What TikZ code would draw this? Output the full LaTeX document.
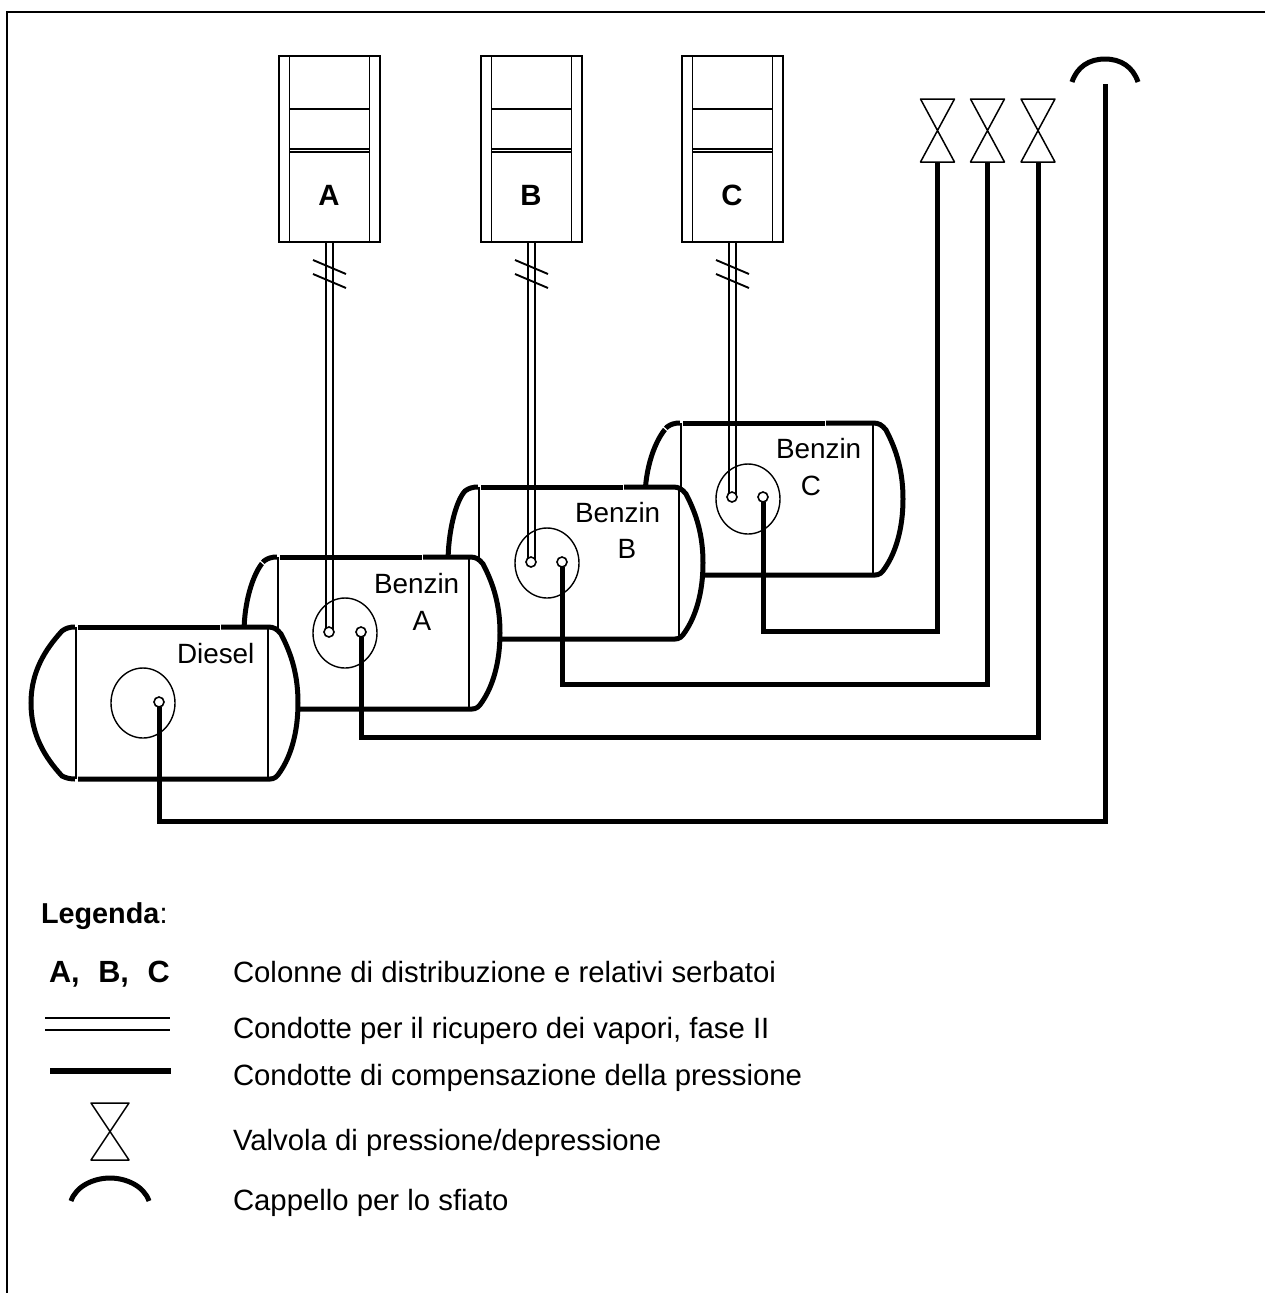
\documentclass[tikz,border=0pt]{standalone}
\usepackage{fontspec}
\setmainfont{Liberation Sans}
\usetikzlibrary{shapes.geometric}
\tikzset{
  x=0.75pt,y=-0.75pt,
  frameline/.style={line width=2.4pt*0.75,line cap=butt},
  thinline/.style={line width=1.9*0.75pt},
  valveline/.style={line width=1.5*0.75pt},
  hairline/.style={line width=1.3*0.75pt},
  heavy/.style={line width=5*0.75pt,line cap=butt,line join=miter},
  vapour/.style={line width=1.4*0.75pt},
  label/.style={font=\fontsize{20.9pt}{24pt}\selectfont,inner sep=0pt,outer sep=0pt},
  legendlabel/.style={font=\fontsize{22pt}{24pt}\selectfont,inner sep=0pt,outer sep=0pt},
  boldlabel/.style={label,font=\fontsize{22pt}{24pt}\selectfont\bfseries},
  headlabel/.style={label,font=\fontsize{21.6pt}{24pt}\selectfont\bfseries},
  bigbold/.style={label,font=\fontsize{23pt}{24pt}\selectfont\bfseries},
  port/.style={circle,draw,fill=white,line width=1.6*0.75pt,inner sep=0pt,minimum size=10*0.75pt,outer sep=0pt},
  sump/.style={ellipse,draw,line width=1.4*0.75pt,inner sep=0pt,minimum width=64*0.75pt,minimum height=70*0.75pt},
  colbox/.style={rectangle,draw,thinline,inner sep=0pt,minimum width=101*0.75pt,minimum height=186*0.75pt},
}
% #1 left shift, #2 right-curve shift, #3 y shift, #4 left extreme (relative), #5 right vertical x
\newcommand{\leftcap}[4]{%
  .. controls ({#1+70},{#3+627}) and ({#1+66},{#3+628}) .. ({#1+62},{#3+631})
    .. controls ({#1+62-(62-#4)*0.55},{#3+631+(62-#4)*0.6}) and ({#1+#4},{#3+672}) .. ({#1+#4},{#3+703})
    .. controls ({#1+#4},{#3+735}) and ({#1+62-(62-#4)*0.55},{#3+776-(62-#4)*0.6}) .. ({#1+62},{#3+776})
    .. controls ({#1+66},{#3+778}) and ({#1+70},{#3+779})}
\newcommand{\tankshape}[5]{%
  \fill[white] ({#1+76},{#3+627}) \leftcap{#1}{#2}{#3}{#4} .. ({#1+76},{#3+779})
    -- ({#2+270},{#3+779})
    .. controls ({#2+274},{#3+779}) and ({#2+277},{#3+777}) .. ({#2+280},{#3+772})
    .. controls ({#2+291},{#3+756}) and ({#2+298},{#3+732}) .. ({#2+298},{#3+703})
    .. controls ({#2+298},{#3+676}) and ({#2+292},{#3+655}) .. ({#2+281},{#3+634})
    .. controls ({#2+277},{#3+629}) and ({#2+274},{#3+627}) .. ({#2+268},{#3+627}) -- cycle;
  \draw[heavy] ({#1+75},{#3+627}) \leftcap{#1}{#2}{#3}{#4} .. ({#1+75},{#3+779});
  \draw[heavy] ({#1+78},{#3+779}) -- ({#2+270},{#3+779})
    .. controls ({#2+274},{#3+779}) and ({#2+277},{#3+777}) .. ({#2+280},{#3+772})
    .. controls ({#2+291},{#3+756}) and ({#2+298},{#3+732}) .. ({#2+298},{#3+703})
    .. controls ({#2+298},{#3+676}) and ({#2+292},{#3+655}) .. ({#2+281},{#3+634})
    .. controls ({#2+277},{#3+629}) and ({#2+274},{#3+627}) .. ({#2+268},{#3+627})
    -- ({#1+221},{#3+627});
  \draw[heavy] ({#1+220},{#3+627}) -- ({#1+78},{#3+627});
  \draw[hairline] ({#1+76},{#3+627}) -- ({#1+76},{#3+779});
  \draw[thinline] (#5,{#3+627}) -- (#5,{#3+779});
  \draw[white,line width=1*0.75pt] ({#1+220.5},{#3+624}) -- ({#1+220.5},{#3+630});
}
\newcommand{\capgap}[2]{\draw[white,line width=1.2*0.75pt] ({#1+56},{#2+629}) -- ({#1+65},{#2+637});}
% name, x centre
\newcommand{\columnunit}[3]{%
  \node[colbox] (#1) at (#2,149) {};
  \draw[thinline] ({#2-40},56) -- ({#2-40},242) ({#2+40},56) -- ({#2+40},242);
  \draw[thinline] ({#2-40},109) -- ({#2+40},109) ({#2-40},149) -- ({#2+40},149) ({#2-40},152) -- ({#2+40},152);
  \node[boldlabel,anchor=base] (#1t) at ({#2-0.5},205) {#3};
  \draw[thinline] ({#2-16.5},260) -- ({#2+16.5},274) ({#2-16.5},274) -- ({#2+16.5},288);
}
% name, x, top, bottom, half width
\newcommand{\valvesym}[5]{%
  \coordinate (#1) at (#2,#4);
  \draw[valveline,line join=round] ({#2-#5},#3) -- ({#2+#5},#3) -- ({#2-#5},#4) -- ({#2+#5},#4) -- cycle;
}
\newcommand{\hoodsym}[3]{% x centre, top y, half width
  \draw[heavy] ({#1-#3},{#2+23}) .. controls ({#1-#3+5},{#2+8}) and ({#1-16},{#2}) .. (#1,#2)
     .. controls ({#1+16},{#2}) and ({#1+#3-5},{#2+8}) .. ({#1+#3},{#2+23});
}
\begin{document}
\begin{tikzpicture}
\useasboundingbox (0,0) rectangle (1265,1293);
\draw[frameline] (1265,12) -- (7,12) -- (7,1293);

% tanks, back to front
\tankshape{605}{605}{-204}{40}{873}
\capgap{605}{-204}
\node[sump] (sC) at (748,499) {};
\tankshape{403}{405}{-140}{45}{679}
\node[sump] (sB) at (547,563) {};
\tankshape{202}{202}{-70}{42}{469}
\capgap{202}{-70}
\node[sump] (sA) at (345,633) {};
\tankshape{0}{0}{0}{31}{268}
\node[sump] (sD) at (143,703) {};

\node[label,anchor=base west] (tD) at (177,663) {Diesel};
\node[label,anchor=base west] (tA1) at (374,593) {Benzin};
\node[label,anchor=base] (tA2) at (422,630) {A};
\node[label,anchor=base west] (tB1) at (575,522) {Benzin};
\node[label,anchor=base] (tB2) at (627,558) {B};
\node[label,anchor=base west] (tC1) at (776,458) {Benzin};
\node[label,anchor=base] (tC2) at (811,495) {C};

% dispensers
\columnunit{cA}{329.5}{A}
\columnunit{cB}{531.5}{B}
\columnunit{cC}{732.5}{C}

% ports
\node[port] (pA2) at (361,632) {};
\node[port] (pB2) at (562,562) {};
\node[port] (pC2) at (763,497) {};
\node[port] (pD) at (159,702) {};

% vapour recovery lines
\coordinate (pA0) at (329,632);
\coordinate (pB0) at (531,562);
\coordinate (pC0) at (732,497);
\foreach \c/\p in {cA/pA0,cB/pB0,cC/pC0}{
  \draw[vapour] ([xshift=-3.6*0.75pt]\c.south) -- ([xshift=-3.6*0.75pt]\c.south |- \p);
  \draw[vapour] ([xshift=3.6*0.75pt]\c.south) -- ([xshift=3.6*0.75pt]\c.south |- \p);
}
\node[port] (pA1) at (pA0) {};
\node[port] (pB1) at (pB0) {};
\node[port] (pC1) at (pC0) {};

% valves and vent
\valvesym{v1}{937.5}{99}{162}{17}
\valvesym{v2}{987.5}{99}{162}{17}
\valvesym{v3}{1038}{99}{162}{17}
\coordinate (vent) at (1105,84);
\hoodsym{1105}{59}{33}

% pressure lines
\coordinate (rC) at (937.5,631);
\coordinate (rB) at (987.5,684);
\coordinate (rA) at (1038,737);
\coordinate (rD) at (1105,821);
\draw[heavy] (pC2.south) |- (rC) -- (v1);
\draw[heavy] (pB2.south) |- (rB) -- (v2);
\draw[heavy] (pA2.south) |- (rA) -- (v3);
\draw[heavy] (pD.south) |- (rD) -- (vent);

% legend
\node[headlabel,anchor=base west] (lg) at (41,923) {Legenda\textmd{:}};
\node[bigbold,anchor=base west] (l1k) at (49,982) {A,\hspace{14pt}B,\hspace{14pt}C};
\node[legendlabel,anchor=base west] (l1) at (233,982) {Colonne di distribuzione e relativi serbatoi};
\node[legendlabel,anchor=base west] (l2) at (233,1038) {Condotte per il ricupero dei vapori, fase II};
\node[legendlabel,anchor=base west] (l3) at (233,1085) {Condotte di compensazione della pressione};
\node[legendlabel,anchor=base west] (l4) at (233,1150) {Valvola di pressione/depressione};
\node[legendlabel,anchor=base west] (l5) at (233,1210) {Cappello per lo sfiato};
\coordinate (d1a) at (45,1018); \coordinate (d1b) at (170,1018);
\coordinate (d2a) at (45,1030); \coordinate (d2b) at (170,1030);
\draw[vapour] (d1a) -- (d1b);
\draw[vapour] (d2a) -- (d2b);
\coordinate (h1) at (50,1071); \coordinate (h2) at (170.5,1071);
\draw[line width=5.4*0.75pt] (h1) -- (h2);
\valvesym{lv}{110}{1103}{1160}{19}
\hoodsym{110}{1178}{39}
\end{tikzpicture}
\end{document}
